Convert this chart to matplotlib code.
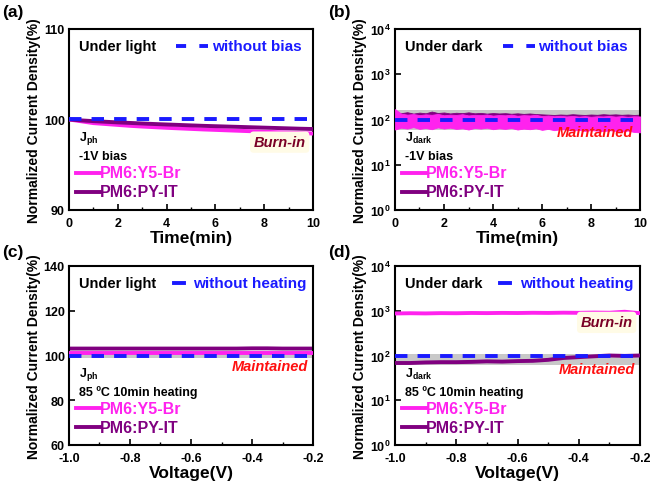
import numpy as np
import matplotlib
matplotlib.use("Agg")
import matplotlib.pyplot as plt
from matplotlib.lines import Line2D
from matplotlib.ticker import MultipleLocator, LogLocator, NullLocator

plt.rcParams['font.family'] = ['Liberation Sans', 'DejaVu Sans']
plt.rcParams['font.weight'] = 'bold'
plt.rcParams['axes.unicode_minus'] = False
plt.rcParams['mathtext.fontset'] = 'custom'
plt.rcParams['mathtext.rm'] = 'Liberation Sans:bold'
plt.rcParams['mathtext.it'] = 'Liberation Sans:bold'
plt.rcParams['mathtext.bf'] = 'Liberation Sans:bold'

MAGENTA = '#ff22ee'
PURPLE = '#800080'
BLUE = '#1a1aff'
GRAY = '#c8c8c8'
DASH = (0, (3.2, 2.6))

# ---- data ----
# (a) photocurrent vs time under -1V bias
time_a = [0, 0.5, 1, 1.5, 2, 2.5, 3, 3.5, 4, 4.5, 5, 5.5, 6, 6.5, 7, 7.5, 8, 8.5, 9, 9.5, 10]
y5br_a = [100, 99.8, 99.6, 99.5, 99.4, 99.3, 99.22, 99.15, 99.08, 99.02, 98.96, 98.9, 98.85, 98.8,
          98.75, 98.7, 98.65, 98.6, 98.55, 98.5, 98.45]
pyit_a = [100, 99.9, 99.82, 99.75, 99.68, 99.62, 99.56, 99.5, 99.45, 99.4, 99.35, 99.3, 99.26, 99.22,
          99.18, 99.14, 99.1, 99.06, 99.02, 98.98, 98.95]
ref_a = 100

# (b) dark current vs time under -1V bias (noisy envelope)
time_b = [0, 0.25, 0.5, 0.75, 1, 1.25, 1.5, 1.75, 2, 2.25, 2.5, 2.75, 3, 3.25, 3.5, 3.75, 4, 4.25, 4.5,
          4.75, 5, 5.25, 5.5, 5.75, 6, 6.25, 6.5, 6.75, 7, 7.25, 7.5, 7.75, 8, 8.25, 8.5, 8.75, 9, 9.25,
          9.5, 9.75, 10]
y5br_b_hi = [170, 135, 128, 132, 125, 130, 127, 133, 124, 128, 126, 131, 123, 127, 125, 129, 122, 126,
             124, 128, 121, 125, 123, 127, 119, 122, 118, 121, 117, 120, 116, 119, 115, 118, 117, 120,
             116, 119, 115, 118, 117]
y5br_b_lo = [60, 66, 63, 68, 62, 65, 61, 67, 63, 66, 62, 64, 60, 65, 63, 66, 61, 64, 62, 65, 60, 63,
             61, 64, 59, 62, 58, 61, 60, 57, 59, 56, 58, 57, 55, 58, 56, 54, 57, 53, 52]
pyit_b_hi = [140, 138, 145, 135, 142, 137, 150, 139, 143, 136, 141, 138, 144, 137, 140, 135, 139, 136,
             138, 134, 137, 133, 136, 132, 130, 128, 126, 129, 127, 131, 128, 126, 129, 127, 131, 128,
             130, 127, 129, 126, 128]
pyit_b_lo = [105, 108, 104, 107, 103, 106, 105, 108, 104, 107, 103, 106, 104, 107, 103, 105, 102, 105,
             103, 106, 102, 104, 103, 105, 100, 102, 99, 101, 100, 102, 99, 101, 100, 102, 99, 101,
             100, 102, 99, 101, 100]
band_b = (58, 162)
ref_b = 100

# (c) photocurrent vs voltage after 85 C heating
volt = [-1.0, -0.95, -0.9, -0.85, -0.8, -0.75, -0.7, -0.65, -0.6, -0.55, -0.5, -0.45, -0.4, -0.35,
        -0.3, -0.25, -0.2]
y5br_c = [101.3, 101.3, 101.3, 101.3, 101.3, 101.3, 101.3, 101.3, 101.3, 101.3, 101.3, 101.3, 101.3,
          101.3, 101.3, 101.3, 101.3]
pyit_c = [103.1, 103.1, 103.1, 103.1, 103.1, 103.1, 103.1, 103.1, 103.1, 103.1, 103.1, 103.1, 103.2,
          103.2, 103.1, 103.1, 103.1]
band_c = (99, 101.8)
ref_c = 100

# (d) dark current vs voltage after 85 C heating
y5br_d = [870, 880, 872, 885, 880, 892, 886, 895, 890, 900, 894, 905, 898, 910, 902, 950, 880]
pyit_d = [68, 68, 70, 71, 71, 72, 74, 73, 75, 76, 80, 88, 92, 96, 100, 98, 100]
band_d = (61, 108)
ref_d = 100

fig = plt.figure(figsize=(6.5, 4.85), dpi=100)


def make_ax(left, top, right, bottom):
    return fig.add_axes([left / 650, 1 - bottom / 485, (right - left) / 650, (bottom - top) / 485])


def style(ax):
    for s in ax.spines.values():
        s.set_linewidth(1.5)
    ax.tick_params(direction='in', which='both', top=False, right=False, labelsize=9)
    ax.tick_params(axis='x', pad=5)
    ax.tick_params(axis='y', pad=3)
    ax.tick_params(which='major', length=4, width=1.2)
    ax.tick_params(which='minor', length=2.5, width=1.0)
    for lab in ax.get_xticklabels() + ax.get_yticklabels():
        lab.set_fontweight('bold')
    ax.set_ylabel('Normalized Current Density(%)', fontsize=10, fontweight='bold', labelpad=2)


def legend_block(ax, title, ref_label, cond, sub, ref_short=False):
    tr = ax.transAxes
    ax.text(0.04, 0.905, title, transform=tr, fontsize=10.5, fontweight='bold', va='center')
    if ref_short:
        ax.add_line(Line2D([0.43, 0.47], [0.905, 0.905], transform=tr, color=BLUE, lw=2.8))
        ax.text(0.51, 0.905, ref_label, transform=tr, fontsize=11, fontweight='bold', color=BLUE, va='center')
    else:
        ax.add_line(Line2D([0.44, 0.57], [0.905, 0.905], transform=tr, color=BLUE, lw=2.8,
                           ls=(0, (2.6, 3.4))))
        ax.text(0.585, 0.905, ref_label, transform=tr, fontsize=11, fontweight='bold', color=BLUE, va='center')
    ax.text(0.04, 0.40, r'J$_{\mathrm{%s}}$' % sub, transform=tr, fontsize=9, fontweight='bold', va='center')
    ax.text(0.04, 0.30, cond, transform=tr, fontsize=9, fontweight='bold', va='center')
    ax.add_line(Line2D([0.03, 0.125], [0.205, 0.205], transform=tr, color=MAGENTA, lw=2.8))
    ax.text(0.128, 0.205, 'PM6:Y5-Br', transform=tr, fontsize=11.5, fontweight='bold', color=MAGENTA, va='center')
    ax.add_line(Line2D([0.03, 0.125], [0.10, 0.10], transform=tr, color=PURPLE, lw=2.8))
    ax.text(0.128, 0.10, 'PM6:PY-IT', transform=tr, fontsize=11.5, fontweight='bold', color=PURPLE, va='center')


def burn_in(ax, x, y):
    ax.text(x, y, 'Burn-in', transform=ax.transAxes, fontsize=10.5, fontweight='bold', style='italic',
            color='#7a0026', ha='right', va='center',
            bbox=dict(boxstyle='round,pad=0.25', fc='#fffbe6', ec='none'))


def maintained(ax, x, y):
    ax.text(x, y, 'Maintained', transform=ax.transAxes, fontsize=10.5, fontweight='bold', style='italic',
            color='#ff1010', ha='right', va='center')


# ---- (a) ----
ax = make_ax(69, 30, 313, 211)
ax.axhline(ref_a, color=BLUE, lw=2.8, ls=DASH, zorder=4)
ax.plot(time_a, y5br_a, color=MAGENTA, lw=2.8, zorder=3)
ax.plot(time_a, pyit_a, color=PURPLE, lw=2.8, zorder=3)
ax.set_xlim(0, 10)
ax.set_ylim(90, 110)
ax.xaxis.set_major_locator(MultipleLocator(2))
ax.xaxis.set_minor_locator(MultipleLocator(1))
ax.yaxis.set_major_locator(MultipleLocator(10))
ax.set_xlabel('Time(min)', fontsize=12.5, fontweight='bold', labelpad=1)
style(ax)
legend_block(ax, 'Under light', 'without bias', '-1V bias', 'ph')
burn_in(ax, 0.97, 0.375)

# ---- (b) ----
ax = make_ax(395, 30, 640, 211)
ax.axhspan(*band_b, color=GRAY, lw=0, zorder=1)
ax.fill_between(time_b, pyit_b_lo, pyit_b_hi, color=PURPLE, lw=0.6, zorder=2)
ax.fill_between(time_b, y5br_b_lo, y5br_b_hi, color=MAGENTA, lw=0.6, zorder=3)
ax.axhline(ref_b, color=BLUE, lw=2.8, ls=DASH, zorder=4)
ax.set_yscale('log')
ax.set_xlim(0, 10)
ax.set_ylim(1, 1e4)
ax.yaxis.set_major_locator(LogLocator(base=10, numticks=10))
ax.yaxis.set_minor_locator(NullLocator())
ax.xaxis.set_major_locator(MultipleLocator(2))
ax.xaxis.set_minor_locator(MultipleLocator(1))
ax.set_xlabel('Time(min)', fontsize=12.5, fontweight='bold', labelpad=1)
style(ax)
legend_block(ax, 'Under dark', 'without bias', '-1V bias', 'dark')
maintained(ax, 0.97, 0.43)

# ---- (c) ----
ax = make_ax(69, 267, 313, 446)
ax.axhspan(*band_c, color=GRAY, lw=0, zorder=1)
ax.axhline(ref_c, color=BLUE, lw=2.8, ls=DASH, zorder=4)
ax.plot(volt, pyit_c, color=PURPLE, lw=2.8, zorder=2)
ax.plot(volt, y5br_c, color=MAGENTA, lw=2.8, zorder=3)
ax.set_xlim(-1.0, -0.2)
ax.set_ylim(60, 140)
ax.xaxis.set_major_locator(MultipleLocator(0.2))
ax.xaxis.set_minor_locator(MultipleLocator(0.1))
ax.yaxis.set_major_locator(MultipleLocator(20))
ax.set_xlabel('Voltage(V)', fontsize=12.5, fontweight='bold', labelpad=1)
style(ax)
legend_block(ax, 'Under light', 'without heating', '85 \u00baC 10min heating', 'ph', ref_short=True)
maintained(ax, 0.98, 0.44)

# ---- (d) ----
ax = make_ax(395, 267, 640, 446)
ax.axhspan(*band_d, color=GRAY, lw=0, zorder=1)
ax.axhline(ref_d, color=BLUE, lw=2.8, ls=DASH, zorder=4)
ax.plot(volt, y5br_d, color=MAGENTA, lw=2.8, zorder=3)
ax.plot(volt, pyit_d, color=PURPLE, lw=2.8, zorder=3)
ax.set_yscale('log')
ax.set_xlim(-1.0, -0.2)
ax.set_ylim(1, 1e4)
ax.yaxis.set_major_locator(LogLocator(base=10, numticks=10))
ax.yaxis.set_minor_locator(NullLocator())
ax.xaxis.set_major_locator(MultipleLocator(0.2))
ax.xaxis.set_minor_locator(MultipleLocator(0.1))
ax.set_xlabel('Voltage(V)', fontsize=12.5, fontweight='bold', labelpad=1)
style(ax)
legend_block(ax, 'Under dark', 'without heating', '85 \u00baC 10min heating', 'dark', ref_short=True)
burn_in(ax, 0.97, 0.685)
maintained(ax, 0.98, 0.425)

# panel labels
for lbl, x, y in [('(a)', 2, 12), ('(b)', 328, 12), ('(c)', 2, 252), ('(d)', 328, 252)]:
    fig.text(x / 650, 1 - y / 485, lbl, fontsize=12.5, fontweight='bold', va='center')

fig.savefig('out.png', dpi=100)
